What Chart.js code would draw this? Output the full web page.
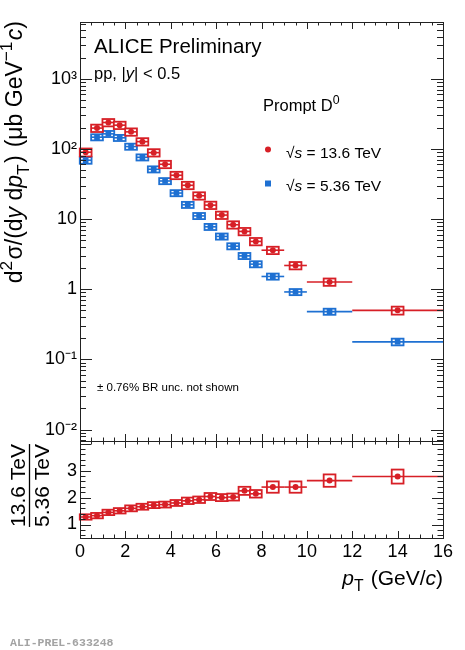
<!DOCTYPE html>
<html>
<head>
<meta charset="utf-8">
<script src="https://cdn.jsdelivr.net/npm/chart.js@4.4.1/dist/chart.umd.min.js"></script>
<style>
  body { margin: 0; background: #fff; }
  #wrap { position: relative; width: 465px; height: 650px; overflow: hidden; }
  canvas { position: absolute; left: 0; }
</style>
</head>
<body>
<div id="wrap">
  <canvas id="spectraChart" width="465" height="445" style="top:0px"></canvas>
  <canvas id="ratioChart" width="465" height="214" style="top:436px"></canvas>
</div>
<script>
// pT bins (GeV/c)
const ptLow    = [0, 0.5, 1, 1.5, 2, 2.5, 3, 3.5, 4, 4.5, 5, 5.5, 6, 6.5, 7, 7.5, 8, 9, 10, 12];
const ptHigh   = [0.5, 1, 1.5, 2, 2.5, 3, 3.5, 4, 4.5, 5, 5.5, 6, 6.5, 7, 7.5, 8, 9, 10, 12, 16];
const ptCenter = [0.25, 0.75, 1.25, 1.75, 2.25, 2.75, 3.25, 3.75, 4.25, 4.75, 5.25, 5.75, 6.25, 6.75, 7.25, 7.75, 8.5, 9.5, 11, 14];

// d2sigma/(dy dpT) in mub GeV^-1 c
const xsec136 = [89.7, 198, 238, 218, 175, 127, 88.5, 60.4, 42.1, 30.3, 21.5, 15.8, 11.4, 8.3, 6.67, 4.8, 3.6, 2.18, 1.27, 0.50];
const xsec536 = [69, 147, 164, 144, 108, 76, 51.3, 34.9, 23.5, 16.0, 11.1, 7.76, 5.66, 4.11, 2.99, 2.28, 1.52, 0.915, 0.48, 0.178];
// relative syst. uncertainties (box heights)
const sys136 = [0.13, 0.12, 0.12, 0.12, 0.12, 0.12, 0.12, 0.12, 0.12, 0.12, 0.12, 0.12, 0.12, 0.12, 0.12, 0.12, 0.12, 0.12, 0.12, 0.13];
const sys536 = [0.11, 0.10, 0.10, 0.10, 0.10, 0.10, 0.10, 0.10, 0.10, 0.10, 0.10, 0.10, 0.10, 0.10, 0.10, 0.10, 0.10, 0.10, 0.10, 0.11];

// ratio 13.6 / 5.36 TeV and its syst. (absolute)
const ratioVals = [1.28, 1.33, 1.45, 1.51, 1.60, 1.66, 1.72, 1.74, 1.80, 1.88, 1.92, 2.04, 2.00, 2.02, 2.25, 2.14, 2.39, 2.39, 2.63, 2.78];
const ratioSys  = [0.10, 0.10, 0.10, 0.10, 0.11, 0.11, 0.11, 0.11, 0.11, 0.12, 0.12, 0.13, 0.13, 0.13, 0.15, 0.14, 0.21, 0.21, 0.23, 0.26];

// axis ticks and labels
const yDecades      = [1e-2, 1e-1, 1, 10, 1e2, 1e3];
const yDecadeLabels = ['10\u207B\u00B2', '10\u207B\u00B9', '1', '10', '10\u00B2', '10\u00B3'];
const ratioTicks    = [1, 2, 3];

const RED = '#d71f26';
const BLUE = '#1e70d2';
const FONT = '"Liberation Sans", Arial, Helvetica, sans-serif';
const boxHalf = 0.26;

Chart.defaults.font.family = FONT;
Chart.defaults.color = '#000';

function richText(ctx, parts, x, y, size, draw) {
  let cx = x;
  parts.forEach(p => {
    const small = p.sup || p.sub;
    const s = small ? size * 0.75 : size;
    ctx.font = (p.it ? 'italic ' : '') + s + 'px ' + FONT;
    const dy = p.sup ? -0.42 * size : (p.sub ? 0.3 * size : 0);
    if (p.pre) cx += p.pre * size;
    if (draw) ctx.fillText(p.t, cx, y + dy);
    cx += ctx.measureText(p.t).width;
    if (small) cx += 0.06 * size;
  });
  return cx - x;
}

// no automatic label overflow padding, so the plot areas keep their fixed boxes
const noPad = s => { s.paddingTop = 0; s.paddingBottom = 0; s.paddingLeft = 0; s.paddingRight = 0; };

// syst boxes + horizontal bin bars drawn behind the markers
const sysBoxes = {
  id: 'sysBoxes',
  beforeDatasetsDraw(chart) {
    const { ctx, scales: { x, y } } = chart;
    chart.data.datasets.forEach(ds => {
      ctx.save();
      ds.data.forEach((p, i) => {
        const xl = x.getPixelForValue(p.x - boxHalf);
        const xr = x.getPixelForValue(p.x + boxHalf);
        const yt = y.getPixelForValue(ds.errHi[i]);
        const yb = y.getPixelForValue(ds.errLo[i]);
        const yc = y.getPixelForValue(p.y);
        ctx.fillStyle = '#fff';
        ctx.fillRect(xl, yt, xr - xl, yb - yt);
        ctx.strokeStyle = ds.backgroundColor;
        ctx.lineWidth = 1.8;
        ctx.strokeRect(xl, yt, xr - xl, yb - yt);
        ctx.lineWidth = 1.6;
        ctx.beginPath();
        ctx.moveTo(x.getPixelForValue(ds.binLo[i]), yc);
        ctx.lineTo(x.getPixelForValue(ds.binHi[i]), yc);
        ctx.stroke();
      });
      ctx.restore();
    });
  }
};

// ROOT-like frame with inward ticks
function frame(yTickList) {
  return {
    id: 'frame',
    afterDraw(chart) {
      const { ctx, chartArea: a, scales: { x, y } } = chart;
      ctx.save();
      ctx.strokeStyle = '#222';
      ctx.lineWidth = 1;
      ctx.strokeRect(Math.round(a.left) + 0.5, Math.round(a.top) + 0.5, Math.round(a.right - a.left), Math.round(a.bottom - a.top));
      ctx.beginPath();
      for (let v = 0; v <= 16.001; v += 0.5) {
        const px = Math.round(x.getPixelForValue(v)) + 0.5;
        const len = (v % 2 === 0) ? 7 : 3.5;
        ctx.moveTo(px, a.top); ctx.lineTo(px, a.top + len);
        ctx.moveTo(px, a.bottom); ctx.lineTo(px, a.bottom - len);
      }
      yTickList(y).forEach(t => {
        const py = Math.round(y.getPixelForValue(t.v)) + 0.5;
        ctx.moveTo(a.left, py); ctx.lineTo(a.left + t.len, py);
        ctx.moveTo(a.right, py); ctx.lineTo(a.right - t.len, py);
      });
      ctx.stroke();
      ctx.restore();
    }
  };
}

function logTicks(y) {
  const out = [];
  for (let e = -3; e <= 3; e++) {
    for (let m = 1; m <= 9; m++) {
      const v = m * Math.pow(10, e);
      if (v >= y.min && v <= y.max) out.push({ v: v, len: m === 1 ? 12 : 6 });
    }
  }
  return out;
}

function linTicks(y) {
  const out = [];
  for (let k = 3; k <= 20; k++) {
    const v = k * 0.2;
    if (v >= y.min && v <= y.max) out.push({ v: v, len: Math.abs(v - Math.round(v)) < 1e-6 ? 11 : 5.5 });
  }
  return out;
}

const spectraText = {
  id: 'spectraText',
  afterDraw(chart) {
    const ctx = chart.ctx;
    ctx.save();
    ctx.fillStyle = '#000';
    ctx.textBaseline = 'alphabetic';
    ctx.font = '20.5px ' + FONT;
    ctx.fillText('ALICE Preliminary', 94, 53);
    richText(ctx, [{ t: 'pp, |' }, { t: 'y', it: 1 }, { t: '| < 0.5' }], 94, 79, 16.5, true);
    richText(ctx, [{ t: 'Prompt D' }, { t: '0', sup: 1 }], 263, 111, 16.5, true);

    // legend
    ctx.fillStyle = RED;
    ctx.beginPath(); ctx.arc(268, 149.5, 3, 0, Math.PI * 2); ctx.fill();
    ctx.fillStyle = BLUE;
    ctx.fillRect(265, 180.5, 6, 6);
    ctx.fillStyle = '#000';
    richText(ctx, [{ t: '\u221A' }, { t: 's', it: 1 }, { t: ' = 13.6 TeV' }], 286, 157.5, 15.5, true);
    richText(ctx, [{ t: '\u221A' }, { t: 's', it: 1 }, { t: ' = 5.36 TeV' }], 286, 191, 15.5, true);

    ctx.font = '11.5px ' + FONT;
    ctx.fillText('\u00B1 0.76% BR unc. not shown', 97, 391);

    // y title, rotated, aligned to the top of the axis
    const title = [
      { t: 'd' }, { t: '2', sup: 1 }, { t: '\u03C3/(d' }, { t: 'y', it: 1 }, { t: ' d' }, { t: 'p', it: 1 },
      { t: 'T', sub: 1 }, { t: ')' }, { t: '(\u03BCb GeV', pre: 0.35 }, { t: '\u22121', sup: 1 }, { t: 'c', it: 1 }, { t: ')' }
    ];
    const size = 23;
    const w = richText(ctx, title, 0, 0, size, false);
    ctx.translate(22, 21 + w);
    ctx.rotate(-Math.PI / 2);
    richText(ctx, title, 0, 0, size, true);
    ctx.restore();
  }
};

const ratioText = {
  id: 'ratioText',
  afterDraw(chart) {
    const ctx = chart.ctx;
    ctx.save();
    ctx.fillStyle = '#000';
    const size = 21;
    ctx.font = size + 'px ' + FONT;
    const num = '13.6 TeV', den = '5.36 TeV';
    const wn = ctx.measureText(num).width, wd = ctx.measureText(den).width;
    const L = Math.max(wn, wd);
    const cy = 49.5;
    ctx.save();
    ctx.translate(25, cy + wn / 2); ctx.rotate(-Math.PI / 2); ctx.fillText(num, 0, 0);
    ctx.restore();
    ctx.save();
    ctx.translate(48.5, cy + wd / 2); ctx.rotate(-Math.PI / 2); ctx.fillText(den, 0, 0);
    ctx.restore();
    ctx.strokeStyle = '#000';
    ctx.lineWidth = 1.3;
    ctx.beginPath(); ctx.moveTo(29.5, cy - L / 2); ctx.lineTo(29.5, cy + L / 2); ctx.stroke();

    // x title
    const xt = [{ t: 'p', it: 1 }, { t: 'T', sub: 1 }, { t: ' (GeV/' }, { t: 'c', it: 1 }, { t: ')' }];
    const wx = richText(ctx, xt, 0, 0, size, false);
    richText(ctx, xt, 443 - wx, 149, size, true);

    ctx.fillStyle = '#a3a3a3';
    ctx.font = 'bold 11.5px "Liberation Mono", "Courier New", monospace';
    ctx.fillText('ALI-PREL-633248', 10, 210);
    ctx.restore();
  }
};

const mkPoints = vals => vals.map((v, i) => ({ x: ptCenter[i], y: v }));

new Chart(document.getElementById('spectraChart'), {
  type: 'scatter',
  data: {
    datasets: [
      {
        label: '5.36 TeV',
        data: mkPoints(xsec536),
        errLo: xsec536.map((v, i) => v * (1 - sys536[i])),
        errHi: xsec536.map((v, i) => v * (1 + sys536[i])),
        binLo: ptLow, binHi: ptHigh,
        backgroundColor: BLUE, borderWidth: 0,
        pointStyle: 'rect', pointRadius: 4
      },
      {
        label: '13.6 TeV',
        data: mkPoints(xsec136),
        errLo: xsec136.map((v, i) => v * (1 - sys136[i])),
        errHi: xsec136.map((v, i) => v * (1 + sys136[i])),
        binLo: ptLow, binHi: ptHigh,
        backgroundColor: RED, borderWidth: 0,
        pointStyle: 'circle', pointRadius: 3
      }
    ]
  },
  options: {
    responsive: false,
    animation: false,
    devicePixelRatio: 1,
    layout: { padding: { left: 0, top: 22, right: 22, bottom: 4 } },
    plugins: { legend: { display: false }, tooltip: { enabled: false } },
    scales: {
      x: { type: 'linear', min: 0, max: 16, display: false },
      y: {
        type: 'logarithmic', min: 0.00687, max: 6440,
        afterFit: s => { s.width = 80; noPad(s); },
        afterBuildTicks: s => { s.ticks = yDecades.map(v => ({ value: v, major: true })); },
        grid: { display: false, drawTicks: false },
        border: { display: false },
        ticks: {
          autoSkip: false, padding: 3,
          font: { size: 18 },
          callback: v => { const i = yDecades.indexOf(v); return i >= 0 ? yDecadeLabels[i] : ''; }
        }
      }
    }
  },
  plugins: [sysBoxes, frame(logTicks), spectraText]
});

new Chart(document.getElementById('ratioChart'), {
  type: 'scatter',
  data: {
    datasets: [{
      label: 'ratio',
      data: mkPoints(ratioVals),
      errLo: ratioVals.map((v, i) => v - ratioSys[i]),
      errHi: ratioVals.map((v, i) => v + ratioSys[i]),
      binLo: ptLow, binHi: ptHigh,
      backgroundColor: RED, borderWidth: 0,
      pointStyle: 'circle', pointRadius: 3
    }]
  },
  options: {
    responsive: false,
    animation: false,
    devicePixelRatio: 1,
    layout: { padding: { left: 0, top: 5, right: 22, bottom: 0 } },
    plugins: { legend: { display: false }, tooltip: { enabled: false } },
    scales: {
      x: {
        type: 'linear', min: 0, max: 16,
        afterFit: s => { s.height = 112; noPad(s); },
        grid: { display: false, drawTicks: false },
        border: { display: false },
        ticks: { stepSize: 2, padding: 3, font: { size: 18 }, maxRotation: 0 }
      },
      y: {
        type: 'linear', min: 0.5, max: 4.1,
        afterFit: s => { s.width = 80; noPad(s); },
        afterBuildTicks: s => { s.ticks = ratioTicks.map(v => ({ value: v })); },
        grid: { display: false, drawTicks: false },
        border: { display: false },
        ticks: { padding: 3, font: { size: 18 } }
      }
    }
  },
  plugins: [sysBoxes, frame(linTicks), ratioText]
});
</script>
</body>
</html>
